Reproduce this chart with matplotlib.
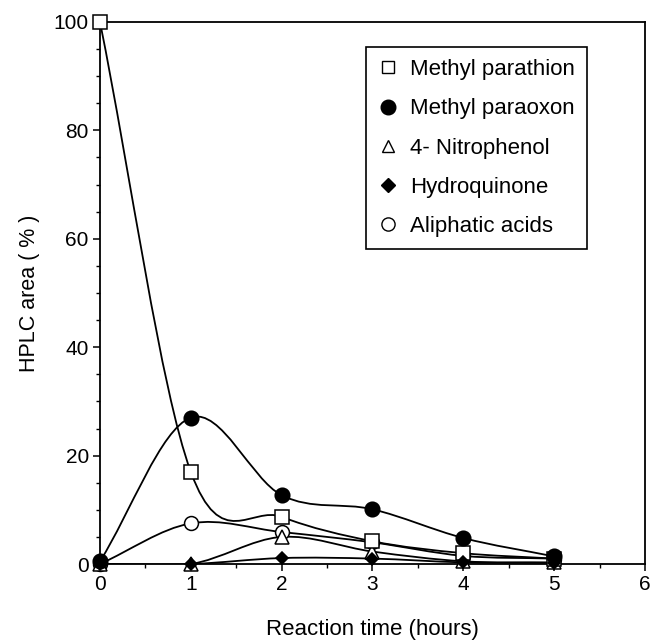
import matplotlib
matplotlib.use("Agg")
import matplotlib.pyplot as plt
import numpy as np
from matplotlib.path import Path
from matplotlib.patches import PathPatch
from matplotlib.lines import Line2D
from matplotlib.ticker import MultipleLocator

plt.rcParams["font.family"] = ["Liberation Sans", "DejaVu Sans"]

# reaction time (hours) and HPLC peak area (%) for each compound
time_h = [0, 1, 2, 3, 4, 5]
methyl_parathion = [100, 17, 8.7, 4.2, 2.0, 1.0]
methyl_paraoxon = [0.5, 27, 12.7, 10.1, 4.8, 1.4]
nitrophenol = [0, 0, 5.0, 2.3, 0.5, 0.3]
hydroquinone = [0, 0, 1.1, 1.0, 0.3, 0.2]
aliphatic_acids = [0, 7.5, 5.9, 4.0, 1.5, 1.0]

labels = ["Methyl parathion", "Methyl paraoxon", "4- Nitrophenol",
          "Hydroquinone", "Aliphatic acids"]


def smooth_path(x, y):
    """Catmull-Rom curve through the points, as cubic Bezier segments."""
    x = np.asarray(x, float)
    y = np.asarray(y, float)
    n = len(x)
    tx = np.zeros(n)
    ty = np.zeros(n)
    for i in range(n):
        a = max(i - 1, 0)
        b = min(i + 1, n - 1)
        tx[i] = (x[b] - x[a]) / (b - a)
        ty[i] = (y[b] - y[a]) / (b - a)
    verts = [(x[0], y[0])]
    codes = [Path.MOVETO]
    for i in range(n - 1):
        verts += [(x[i] + tx[i] / 3, y[i] + ty[i] / 3),
                  (x[i + 1] - tx[i + 1] / 3, y[i + 1] - ty[i + 1] / 3),
                  (x[i + 1], y[i + 1])]
        codes += [Path.CURVE4] * 3
    return Path(verts, codes)


fig = plt.figure(figsize=(6.53, 6.41), dpi=100)
ax = fig.add_axes([0.1531, 0.1201, 0.8346, 0.8456])

# open symbols first so the filled ones sit on top where they overlap
series = [
    (aliphatic_acids, dict(marker="o", ms=10, mfc="white")),
    (nitrophenol, dict(marker="^", ms=9.5, mfc="white")),
    (methyl_parathion, dict(marker="s", ms=9.5, mfc="white")),
    (hydroquinone, dict(marker="D", ms=6.5, mfc="black")),
    (methyl_paraoxon, dict(marker="o", ms=10.5, mfc="black")),
]

for values, style in series:
    ax.add_patch(PathPatch(smooth_path(time_h, values), fill=False,
                           lw=1.3, edgecolor="black", zorder=2))
for values, style in series:
    ax.plot(time_h, values, ls="none", mec="black", mew=1.1,
            clip_on=False, zorder=3, **style)

ax.set_xlim(0, 6)
ax.set_ylim(0, 100)
ax.xaxis.set_major_locator(MultipleLocator(1))
ax.xaxis.set_minor_locator(MultipleLocator(0.5))
ax.yaxis.set_major_locator(MultipleLocator(20))
ax.yaxis.set_minor_locator(MultipleLocator(5))
ax.tick_params(which="major", direction="out", length=5, width=1.1,
               labelsize=15, pad=3)
ax.tick_params(which="minor", direction="out", length=3, width=1.0)
for sp in ax.spines.values():
    sp.set_linewidth(1.3)

ax.set_xlabel("Reaction time (hours)", fontsize=16, labelpad=18)
ax.set_ylabel("HPLC area ( % )", fontsize=15.5, labelpad=10)

handles = [
    Line2D([], [], ls="none", marker="s", ms=9, mfc="white", mec="black", mew=1.0),
    Line2D([], [], ls="none", marker="o", ms=10.5, mfc="black", mec="black"),
    Line2D([], [], ls="none", marker="^", ms=9, mfc="white", mec="black", mew=1.0),
    Line2D([], [], ls="none", marker="D", ms=7, mfc="black", mec="black"),
    Line2D([], [], ls="none", marker="o", ms=9.5, mfc="white", mec="black", mew=1.0),
]
leg = ax.legend(handles, labels, loc="upper left", bbox_to_anchor=(0.488, 0.954),
                borderaxespad=0, fontsize=16, frameon=True, fancybox=False,
                edgecolor="black", framealpha=1, handlelength=0.9,
                handletextpad=0.55, labelspacing=0.82, borderpad=0.55)
leg.get_frame().set_linewidth(1.2)

fig.savefig("out.png", dpi=100)
